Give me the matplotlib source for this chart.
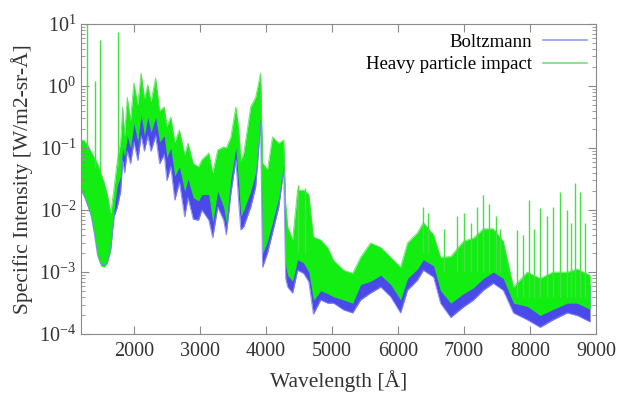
'''Specific intensity spectra: Boltzmann vs heavy particle impact.'''

import numpy as np
import matplotlib
matplotlib.use('Agg')
import matplotlib.pyplot as plt
from matplotlib.lines import Line2D

plt.rcParams['font.family'] = ['Liberation Serif', 'DejaVu Serif']
plt.rcParams['mathtext.fontset'] = 'custom'
plt.rcParams['mathtext.rm'] = 'Liberation Serif'
plt.rcParams['mathtext.it'] = 'Liberation Serif:italic'

wave = [1200, 1250, 1300, 1350, 1400, 1450, 1500, 1550, 1600, 1650,
        1700, 1750, 1800, 1830, 1860, 1900, 1950, 2000, 2060, 2110,
        2160, 2210, 2260, 2330, 2390, 2460, 2500, 2560, 2620, 2690,
        2770, 2820, 2900, 2980, 3030, 3135, 3195, 3270, 3360, 3400,
        3470, 3545, 3590, 3620, 3665, 3770, 3845, 3920, 3950, 4025,
        4100, 4195, 4270, 4300, 4330, 4405, 4480, 4570, 4650, 4720,
        4830, 4935, 5025, 5180, 5315, 5435, 5585, 5740, 5890, 6040,
        6145, 6295, 6385, 6540, 6645, 6800, 6995, 7145, 7295, 7445,
        7595, 7750, 7960, 8155, 8350, 8565, 8715, 8910]

# heavy particle impact: upper / lower edge of the band
heavy_hi = [1.35e-1, 1.32e-1, 1.12e-1, 8.9e-2, 7.1e-2, 5.6e-2, 4.0e-2, 2.8e-2, 1.78e-2, 8.9e-3,
            2.24e-2, 6.3e-2, 1.26e-1, 4.6e-1, 1.58e-1, 6.6e-1, 2.8e-1, 1.12, 5.0e-1, 1.62,
            6.3e-1, 1.05, 5.6e-1, 1.35, 4.0e-1, 4.6e-1, 2.24e-1, 3.16e-1, 1.26e-1, 1.95e-1,
            7.9e-2, 1.2e-1, 5.6e-2, 5.0e-2, 6.5e-2, 8.3e-2, 4.0e-2, 9.3e-2, 1.05e-1, 1.0e-1,
            1.51e-1, 4.6e-1, 1.95e-1, 6.3e-2, 8.3e-2, 4.6e-1, 6.6e-1, 1.62, 5.75e-2, 4.5e-2,
            1.51e-1, 1.2e-1, 1.35e-1, 1.26e-2, 5.4e-3, 3.3e-3, 2.1e-2, 2.1e-2, 1.8e-2, 3.7e-3,
            3.3e-3, 2.5e-3, 1.55e-3, 1.07e-3, 9.55e-4, 1.74e-3, 2.95e-3, 2.5e-3, 1.74e-3, 1.2e-3,
            2.95e-3, 4.3e-3, 6.3e-3, 4.0e-3, 1.74e-3, 1.78e-3, 3.16e-3, 3.55e-3, 5.0e-3, 5.0e-3,
            3.16e-3, 5.75e-4, 1.0e-3, 7.9e-4, 1.0e-3, 1.0e-3, 1.12e-3, 8.9e-4]
heavy_lo = [2.0e-2, 1.58e-2, 1.12e-2, 7.9e-3, 4.0e-3, 1.78e-3, 1.26e-3, 1.2e-3, 1.41e-3, 2.24e-3,
            1.0e-2, 2.5e-2, 3.55e-2, 1.0e-1, 7.1e-2, 1.58e-1, 1.0e-1, 2.5e-1, 1.26e-1, 3.55e-1,
            1.58e-1, 3.16e-1, 1.78e-1, 3.16e-1, 1.26e-1, 1.58e-1, 7.1e-2, 1.0e-1, 3.55e-2, 5.0e-2,
            2.0e-2, 3.16e-2, 1.58e-2, 1.41e-2, 1.78e-2, 1.78e-2, 6.3e-3, 2.0e-2, 1.12e-2, 6.3e-3,
            3.16e-2, 1.0e-1, 2.5e-2, 7.9e-3, 1.0e-2, 2.0e-2, 4.0e-2, 3.16e-1, 2.0e-3, 3.16e-3,
            6.3e-3, 1.58e-2, 5.6e-2, 1.26e-3, 8.9e-4, 7.1e-4, 1.58e-3, 1.41e-3, 1.0e-3, 3.5e-4,
            5.0e-4, 4.5e-4, 4.0e-4, 3.55e-4, 3.16e-4, 6.3e-4, 7.1e-4, 8.9e-4, 6.3e-4, 3.55e-4,
            7.9e-4, 1.12e-3, 1.58e-3, 1.26e-3, 5.0e-4, 3.16e-4, 4.5e-4, 5.6e-4, 7.9e-4, 1.0e-3,
            7.9e-4, 3.16e-4, 2.8e-4, 2.0e-4, 2.5e-4, 3.16e-4, 3.16e-4, 2.5e-4]

# Boltzmann: upper / lower edge of the band
boltz_hi = [9.5e-2, 9.3e-2, 7.9e-2, 6.3e-2, 5.0e-2, 4.0e-2, 2.8e-2, 2.0e-2, 1.26e-2, 6.3e-3,
            1.58e-2, 4.5e-2, 8.9e-2, 3.2e-1, 1.12e-1, 4.6e-1, 2.0e-1, 7.9e-1, 3.55e-1, 1.15,
            4.5e-1, 7.4e-1, 4.0e-1, 9.5e-1, 2.8e-1, 3.3e-1, 1.58e-1, 2.24e-1, 8.9e-2, 1.38e-1,
            5.6e-2, 8.5e-2, 4.0e-2, 3.55e-2, 4.6e-2, 5.9e-2, 2.8e-2, 6.6e-2, 7.4e-2, 7.1e-2,
            1.07e-1, 3.3e-1, 1.38e-1, 4.5e-2, 5.9e-2, 3.3e-1, 4.6e-1, 1.15, 4.1e-2, 3.2e-2,
            1.07e-1, 8.5e-2, 9.5e-2, 8.9e-3, 3.8e-3, 2.35e-3, 1.5e-2, 1.5e-2, 1.3e-2, 2.6e-3,
            2.35e-3, 1.78e-3, 1.1e-3, 7.6e-4, 6.8e-4, 1.23e-3, 2.1e-3, 1.78e-3, 1.23e-3, 8.5e-4,
            2.1e-3, 3.0e-3, 4.5e-3, 2.8e-3, 1.23e-3, 1.26e-3, 2.24e-3, 2.5e-3, 3.55e-3, 3.55e-3,
            2.24e-3, 4.1e-4, 7.1e-4, 5.6e-4, 7.1e-4, 7.1e-4, 7.9e-4, 6.3e-4]
boltz_lo = [2.1e-2, 1.7e-2, 1.2e-2, 8.5e-3, 4.3e-3, 1.9e-3, 1.35e-3, 1.3e-3, 1.5e-3, 2.4e-3,
            7.9e-3, 1.12e-2, 2.0e-2, 6.3e-2, 4.0e-2, 8.9e-2, 5.6e-2, 1.26e-1, 6.3e-2, 1.58e-1,
            8.9e-2, 1.58e-1, 8.9e-2, 1.58e-1, 5.6e-2, 7.9e-2, 3.0e-2, 5.0e-2, 1.45e-2, 2.8e-2,
            7.8e-3, 1.58e-2, 7.1e-3, 6.9e-3, 1.0e-2, 6.9e-3, 3.6e-3, 1.12e-2, 6.9e-3, 4.0e-3,
            1.86e-2, 6.5e-2, 1.26e-2, 4.8e-3, 5.4e-3, 1.12e-2, 2.35e-2, 2.5e-1, 1.2e-3, 2.04e-3,
            4.3e-3, 1.12e-2, 4.5e-2, 7.9e-4, 5.75e-4, 4.6e-4, 1.07e-3, 9.55e-4, 7.0e-4, 2.1e-4,
            3.55e-4, 3.16e-4, 3.16e-4, 2.45e-4, 2.2e-4, 3.55e-4, 4.6e-4, 5.75e-4, 4.0e-4, 2.2e-4,
            5.1e-4, 7.4e-4, 1.07e-3, 8.3e-4, 3.16e-4, 1.86e-4, 2.75e-4, 3.55e-4, 5.1e-4, 6.6e-4,
            5.1e-4, 2.2e-4, 1.7e-4, 1.29e-4, 1.7e-4, 2.2e-4, 2.0e-4, 1.58e-4]

# narrow emission spikes of the heavy particle spectrum
spike_wave = [1290, 1410, 1486, 1758, 4480, 4600, 6385, 6450, 6700, 6900,
              7000, 7100, 7200, 7295, 7380, 7480, 7550, 7806, 7900, 7982,
              8060, 8159, 8259, 8350, 8460, 8561, 8620, 8687, 8763, 8839]
spike_top = [12.0, 1.2, 5.5, 7.4, 2.5e-2, 2.24e-2, 1.12e-2, 8.9e-3, 5.0e-3, 7.9e-3,
             8.9e-3, 6.3e-3, 1.12e-2, 1.74e-2, 1.26e-2, 7.9e-3, 5.0e-3, 4.8e-3, 4.0e-3, 1.45e-2,
             5.0e-3, 1.07e-2, 7.9e-3, 1.12e-2, 1.95e-2, 1.0e-2, 6.3e-3, 2.75e-2, 1.95e-2, 6.3e-3]
spike_base = [1.0e-1, 5.0e-2, 4.0e-2, 5.0e-2, 2.0e-3, 2.0e-3, 2.0e-3, 2.0e-3, 1.0e-3, 1.0e-3,
              1.0e-3, 1.0e-3, 1.0e-3, 1.0e-3, 1.0e-3, 1.0e-3, 1.0e-3, 4.0e-4, 4.0e-4, 4.0e-4,
              4.0e-4, 4.0e-4, 4.0e-4, 4.0e-4, 4.0e-4, 4.0e-4, 4.0e-4, 4.0e-4, 4.0e-4, 4.0e-4]

xticks = [2000, 3000, 4000, 5000, 6000, 7000, 8000, 9000]

BLUE = '#2a2ae6'
GREEN = '#12ee12'

#----------------------------------------------------------------------
fig = plt.figure(figsize=(6.3, 3.94), dpi=100)
ax = fig.add_axes([0.1286, 0.152, 0.8174, 0.787])

# Boltzmann band underneath, heavy particle band on top
ax.fill_between(wave, boltz_lo, boltz_hi, color=BLUE, alpha=0.85, lw=0)
ax.plot(wave, boltz_lo, color='#8080ff', lw=0.8, alpha=0.8)
ax.fill_between(wave, heavy_lo, heavy_hi, color=GREEN, lw=0)
ax.plot(wave, heavy_hi, color='#55dd55', lw=0.7, alpha=0.8)
ax.vlines(spike_wave, spike_base, spike_top, color='#44e044', lw=1.0)

ax.set_yscale('log')
ax.set_xlim(1200, 9000)
ax.set_ylim(1e-4, 10)
ax.set_xticks(xticks)

ax.set_xlabel('Wavelength [Å]', fontsize=15.5, color='#333333', labelpad=6)
ax.set_ylabel('Specific Intensity [W/m2-sr-Å]', fontsize=15.5, color='#333333', labelpad=4)

for sp in ax.spines.values():
    sp.set_color('#8a8a8a')
ax.tick_params(which='both', direction='in', top=True, right=True,
               color='#8a8a8a', labelcolor='#333333', labelsize=14.5)
ax.tick_params(which='major', length=6)
ax.tick_params(which='minor', length=3)
ax.tick_params(axis='x', pad=6)

handles = [Line2D([], [], color='#9a9af2', lw=1.2),
           Line2D([], [], color='#77dd77', lw=1.2)]
ax.legend(handles, ['Boltzmann', 'Heavy particle impact'], loc='upper right',
          bbox_to_anchor=(1.0, 1.0), frameon=False, markerfirst=False,
          fontsize=13.5, handlelength=2.3, handletextpad=0.6,
          labelspacing=0.3, borderaxespad=0.1)

fig.savefig('out.png', dpi=100)
